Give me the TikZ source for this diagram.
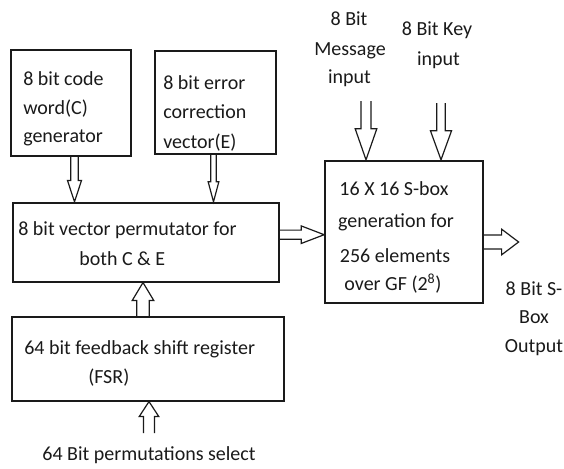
\documentclass[tikz,border=0pt]{standalone}
\usepackage{fontspec}
\setmainfont{Carlito}
\usetikzlibrary{calc}
\definecolor{ink}{HTML}{1A1A1A}
% block (hollow) arrow: #1 start, #2 tip, #3 shaft half width, #4 head half width, #5 head length
\newcommand{\blockarrow}[5]{%
  \coordinate (ba-h) at ($(#2)!#5!(#1)$);
  \draw[blk] ($(#1)!#3!90:(#2)$) -- ($(ba-h)!#3!-90:(#1)$) -- ($(ba-h)!#4!-90:(#1)$)
    -- (#2) -- ($(ba-h)!#4!90:(#1)$) -- ($(ba-h)!#3!90:(#1)$) -- ($(#1)!#3!-90:(#2)$);
}
\begin{document}
\begin{tikzpicture}[x=0.75pt,y=-0.75pt,
  box/.style={draw=ink,line width=1.3pt,rectangle,inner sep=0pt},
  lbl/.style={font=\fontsize{15pt}{18pt}\selectfont,text=ink,inner sep=0pt},
  blk/.style={draw=ink,line width=0.9pt,line join=miter}]
\useasboundingbox (0,0) rectangle (564,468);

% boxes
\node[box,minimum width=90pt,minimum height=79.5pt] (C) at (71,103) {};
\node[box,minimum width=90.5pt,minimum height=77.7pt] (E) at (215.3,102.5) {};
\node[box,minimum width=199.5pt,minimum height=59.25pt] (P) at (146.3,242.2) {};
\node[box,minimum width=203.8pt,minimum height=63pt] (FSR) at (148.2,358.7) {};
\node[box,minimum width=118.3pt,minimum height=107pt] (S) at (403.9,232) {};

% box texts
\node[lbl,anchor=base west] (c1) at (23,85) {8 bit code};
\node[lbl,anchor=base west] (c2) at (23,114) {word(C)};
\node[lbl,anchor=base west] (c3) at (23,142) {generator};
\node[lbl,anchor=base west] (e1) at (163,89) {8 bit error};
\node[lbl,anchor=base west] (e2) at (163,118) {correction};
\node[lbl,anchor=base west] (e3) at (163,148) {vector(E)};
\node[lbl,anchor=base west] (p1) at (18,235) {8 bit vector permutator for};
\node[lbl,anchor=base west] (p2) at (79,265) {both C \& E};
\node[lbl,anchor=base west] (f1) at (24,354) {64 bit feedback shift register};
\node[lbl,anchor=base west] (f2) at (88,383) {(FSR)};
\node[lbl,anchor=base] (s1) at (394,195) {16 X 16 S-box};
\node[lbl,anchor=base] (s2) at (396,227) {generation for};
\node[lbl,anchor=base] (s3) at (395,262) {256 elements};
\node[lbl,anchor=base] (s4) at (393,290) {over GF (2\textsuperscript{8})};

% outside labels
\node[lbl,anchor=base] (m1) at (349,25) {8 Bit};
\node[lbl,anchor=base] (m2) at (350,55) {Message};
\node[lbl,anchor=base] (m3) at (349.5,83) {input};
\node[lbl,anchor=base] (k1) at (437,35) {8 Bit Key};
\node[lbl,anchor=base] (k2) at (438.5,65) {input};
\node[lbl,anchor=base] (o1) at (534,295) {8 Bit S-};
\node[lbl,anchor=base] (o2) at (534,323) {Box};
\node[lbl,anchor=base] (o3) at (534,352) {Output};
\node[lbl,anchor=base] (sel) at (149,460) {64 Bit permutations select};

% connector end points
\coordinate (cpa) at ($(C.south)+(3.5,0)$);
\coordinate (cpb) at (cpa |- P.north);
\coordinate (epa) at ($(E.south)+(-1.8,0)$);
\coordinate (epb) at (epa |- P.north);
\coordinate (fpa) at ($(FSR.north)+(-5.2,0)$);
\coordinate (fpb) at (fpa |- P.south);
\coordinate (sla) at ($(sel.base)+(0,-27)$);
\coordinate (slb) at (sla |- FSR.south);
\coordinate (psa) at ($(P.east)+(0,-7.5)$);
\coordinate (psb) at (psa -| S.west);
\coordinate (soa) at ($(S.east)+(0,10)$);
\coordinate (sob) at ($(soa)+(35,0)$);
\coordinate (ma) at ($(m3.base)+(16.5,18)$);
\coordinate (mb) at (ma |- S.north);
\coordinate (ka) at ($(k2.base)+(2.5,38)$);
\coordinate (kb) at (ka |- S.north);

% hollow arrows
\blockarrow{cpa}{cpb}{2.85pt}{5.25pt}{16pt}
\blockarrow{epa}{epb}{2.1pt}{4pt}{15pt}
\blockarrow{fpa}{fpb}{4.7pt}{8.1pt}{13.5pt}
\blockarrow{sla}{slb}{4.1pt}{7.35pt}{11.25pt}
\blockarrow{psa}{psb}{3.45pt}{6.6pt}{17.25pt}
\blockarrow{soa}{sob}{5.25pt}{9.6pt}{12.75pt}
\blockarrow{ma}{mb}{3.75pt}{8.1pt}{23.25pt}
\blockarrow{ka}{kb}{3.15pt}{7.9pt}{21.75pt}
\end{tikzpicture}
\end{document}
